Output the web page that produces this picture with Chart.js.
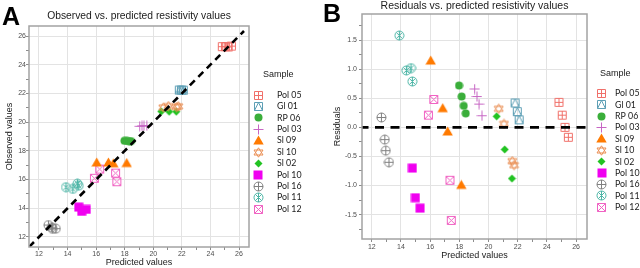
<!DOCTYPE html>
<html><head><meta charset="utf-8">
<script src="https://cdn.jsdelivr.net/npm/chart.js@4.4.1/dist/chart.umd.min.js"></script>
<style>
html,body{margin:0;padding:0;background:#fff;width:640px;height:268px;overflow:hidden}
#wrap{position:relative;width:640px;height:268px}
canvas{position:absolute;top:0}
#cA{left:0}#cB{left:320px}
</style></head>
<body><div id="wrap"><canvas id="cA" width="320" height="268"></canvas><canvas id="cB" width="320" height="268"></canvas></div>
<script>
// ---------------- data ----------------
const sampleNames = ['Pol 05','Gl 01','RP 06','Pol 03','Sl 09','Sl 10','Sl 02','Pol 10','Pol 16','Pol 11','Pol 12'];

const pol05_pred = [24.83, 25.05, 25.24, 25.47];
const pol05_obs  = [25.26, 25.26, 25.24, 25.30];
const pol05_res  = [0.43, 0.21, 0.00, -0.17];

const gl01_pred = [21.82, 21.97, 22.10];
const gl01_obs  = [22.24, 22.24, 22.23];
const gl01_res  = [0.42, 0.27, 0.13];

const rp06_pred = [17.98, 18.16, 18.30, 18.44];
const rp06_obs  = [18.70, 18.69, 18.67, 18.68];
const rp06_res  = [0.72, 0.53, 0.37, 0.24];

const pol03_pred = [19.05, 19.21, 19.35, 19.55];
const pol03_obs  = [19.71, 19.74, 19.75, 19.75];
const pol03_res  = [0.66, 0.53, 0.40, 0.20];

const sl09_pred = [16.04, 16.86, 17.20, 18.14];
const sl09_obs  = [17.19, 17.19, 17.13, 17.15];
const sl09_res  = [1.15, 0.33, -0.07, -0.99];

const sl10_pred = [20.70, 21.06, 21.63, 21.75];
const sl10_obs  = [21.02, 21.12, 21.05, 21.10];
const sl10_res  = [0.32, 0.06, -0.58, -0.65];

const sl02_pred = [20.56, 21.11, 21.61];
const sl02_obs  = [20.75, 20.73, 20.73];
const sl02_res  = [0.19, -0.38, -0.88];

const pol10_pred = [14.78, 14.99, 15.31];
const pol10_obs  = [14.08, 13.78, 13.92];
const pol10_res  = [-0.70, -1.21, -1.39];

const pol16_pred = [12.66, 12.89, 12.96, 13.18];
const pol16_obs  = [12.83, 12.68, 12.56, 12.58];
const pol16_res  = [0.17, -0.21, -0.40, -0.60];

const pol11_pred = [13.89, 14.37, 14.69, 14.78];
const pol11_obs  = [15.47, 15.35, 15.71, 15.57];
const pol11_res  = [1.58, 0.98, 1.02, 0.79];

const pol12_pred = [15.88, 16.25, 17.36, 17.45];
const pol12_obs  = [16.09, 16.73, 16.45, 15.85];
const pol12_res  = [0.21, 0.48, -0.91, -1.60];

const xTickLabels  = [12, 14, 16, 18, 20, 22, 24, 26];
const yTickLabelsA = [12, 14, 16, 18, 20, 22, 24, 26];
const yTickLabelsB = [-1.5, -1.0, -0.5, 0.0, 0.5, 1.0, 1.5];

const refLineA = [11.3, 26.35];   // y = x identity line ends
const refLineB = [11.33, 26.75];  // residual = 0 line ends

// ---------------- styles ----------------
const styles = [
  {color:'#f0706a', shape:'squarePlus',    size:11},
  {color:'#5d9fb5', shape:'squareTriangle',size:11},
  {color:'#3aae3a', shape:'circle',        size:9},
  {color:'#c766c4', shape:'plus',          size:11},
  {color:'#ff7a00', shape:'triangle',      size:11},
  {color:'#ea8f55', shape:'star6',         size:11},
  {color:'#22c322', shape:'diamond',       size:9},
  {color:'#f000f0', shape:'square',        size:10},
  {color:'#808080', shape:'circlePlus',    size:11},
  {color:'#4cb5a6', shape:'circleCross',   size:11},
  {color:'#f063c3', shape:'squareCross',   size:11}
];

function makeIcon(shape, color, s) {
  const c = document.createElement('canvas'); c.width = s; c.height = s;
  const g = c.getContext('2d');
  g.strokeStyle = color; g.fillStyle = color; g.lineWidth = 1;
  const m = s/2, a = 1.5, b = s - 1.5;
  g.beginPath();
  switch (shape) {
    case 'squarePlus':
      g.rect(a,a,b-a,b-a); g.moveTo(m,a); g.lineTo(m,b); g.moveTo(a,m); g.lineTo(b,m); g.stroke(); break;
    case 'squareTriangle':
      g.rect(a,a,b-a,b-a); g.moveTo(a,b); g.lineTo(m,a); g.lineTo(b,b); g.stroke(); break;
    case 'circle':
      g.arc(m,m,s/2-0.5,0,Math.PI*2); g.fill(); break;
    case 'plus':
      g.moveTo(m,0.5); g.lineTo(m,s-0.5); g.moveTo(0.5,m); g.lineTo(s-0.5,m); g.stroke(); break;
    case 'triangle':
      g.moveTo(m,0.5); g.lineTo(s-0.3,s-1.5); g.lineTo(0.3,s-1.5); g.closePath(); g.fill(); break;
    case 'star6':
      g.moveTo(m,0.8); g.lineTo(s-1,s-3); g.lineTo(1,s-3); g.closePath();
      g.moveTo(m,s-0.8); g.lineTo(s-1,3); g.lineTo(1,3); g.closePath(); g.stroke(); break;
    case 'diamond':
      g.moveTo(m,0.5); g.lineTo(s-0.5,m); g.lineTo(m,s-0.5); g.lineTo(0.5,m); g.closePath(); g.fill(); break;
    case 'square':
      g.fillRect(0.5,0.5,s-1,s-1); break;
    case 'circlePlus':
      g.arc(m,m,s/2-1,0,Math.PI*2); g.moveTo(m,1); g.lineTo(m,s-1); g.moveTo(1,m); g.lineTo(s-1,m); g.stroke(); break;
    case 'circleCross': {
      const r = s/2-1, d = r*0.707;
      g.arc(m,m,r,0,Math.PI*2); g.moveTo(m-d,m-d); g.lineTo(m+d,m+d); g.moveTo(m+d,m-d); g.lineTo(m-d,m+d);
      g.moveTo(m,1); g.lineTo(m,s-1); g.stroke(); break; }
    case 'squareCross':
      g.rect(a,a,b-a,b-a); g.moveTo(a,a); g.lineTo(b,b); g.moveTo(b,a); g.lineTo(a,b); g.stroke(); break;
  }
  return c;
}

const seriesTable = [
  [pol05_pred, pol05_obs, pol05_res],
  [gl01_pred, gl01_obs, gl01_res],
  [rp06_pred, rp06_obs, rp06_res],
  [pol03_pred, pol03_obs, pol03_res],
  [sl09_pred, sl09_obs, sl09_res],
  [sl10_pred, sl10_obs, sl10_res],
  [sl02_pred, sl02_obs, sl02_res],
  [pol10_pred, pol10_obs, pol10_res],
  [pol16_pred, pol16_obs, pol16_res],
  [pol11_pred, pol11_obs, pol11_res],
  [pol12_pred, pol12_obs, pol12_res]
];

function buildDatasets(which) {
  return sampleNames.map((name, i) => {
    const [pred, obs, res] = seriesTable[i];
    const ys = which === 'A' ? obs : res;
    const st = styles[i];
    return {
      label: name,
      data: pred.map((p, k) => ({x: p, y: ys[k]})),
      pointStyle: makeIcon(st.shape, st.color, st.size),
      pointRadius: 5,
      order: 1
    };
  });
}

const near = (v, arr) => arr.some(t => Math.abs(v - t) < 1e-6);

const decor = {
  id: 'decor',
  afterDraw(chart, args, o) {
    const {ctx, chartArea: ca} = chart;
    ctx.save();
    ctx.strokeStyle = '#a3a3a3'; ctx.lineWidth = 1.5;
    ctx.strokeRect(ca.left, ca.top, ca.right - ca.left, ca.bottom - ca.top);
    ctx.fillStyle = '#1a1a1a';
    ctx.font = o.titleFont; ctx.textAlign = 'center'; ctx.textBaseline = 'middle';
    ctx.fillText(o.title, (ca.left + ca.right) / 2, o.titleY);
    ctx.fillStyle = '#000';
    ctx.font = 'bold 25px "Liberation Sans", Arial, sans-serif';
    ctx.textAlign = 'left'; ctx.textBaseline = 'alphabetic';
    ctx.fillText(o.letter, o.letterX, o.letterY);
    ctx.fillStyle = '#1a1a1a';
    ctx.textBaseline = 'middle';
    ctx.font = '9px "Liberation Sans", Arial, sans-serif';
    ctx.fillText('Sample', o.legTitleX, o.legTitleY);
    ctx.font = '8.8px Lato, "Open Sans", sans-serif';
    chart.data.datasets.filter(d => !d.isRef).forEach((d, i) => {
      const y = o.legY0 + i * o.legStep;
      const ic = d.pointStyle;
      ctx.drawImage(ic, Math.round(o.symX - ic.width / 2), Math.round(y - ic.height / 2));
      ctx.fillText(d.label, o.textX, y);
    });
    ctx.restore();
  }
};

const tickFont = {family: '"Liberation Sans", Arial, sans-serif', size: 7};
const titleFont = {family: '"Liberation Sans", Arial, sans-serif', size: 9};

function makeChart(id, cfg) {
  return new Chart(document.getElementById(id), {
    type: 'scatter',
    data: {datasets: cfg.datasets},
    options: {
      responsive: false, animation: false, devicePixelRatio: 1,
      layout: {padding: cfg.padding, autoPadding: false},
      plugins: {legend: {display: false}, tooltip: {enabled: false}, decor: cfg.decor},
      scales: {
        x: {
          type: 'linear', min: cfg.xmin, max: cfg.xmax,
          afterFit: s => { s.height = cfg.xHeight; },
          border: {display: false},
          grid: {
            color: c => (c.tick && near(c.tick.value, xTickLabels)) ? '#e3e3e3' : 'rgba(0,0,0,0)',
            tickColor: '#8c8c8c', tickLength: 3, drawTicks: true, lineWidth: 1
          },
          ticks: {
            stepSize: 1, includeBounds: false, autoSkip: false, maxRotation: 0, padding: cfg.xTickPad,
            color: '#4d4d4d', font: tickFont,
            callback: v => near(v, xTickLabels) ? String(Math.round(v)) : ''
          },
          title: {display: true, text: 'Predicted values', color: '#1a1a1a', font: titleFont, padding: {top: 0, bottom: 0}}
        },
        y: {
          type: 'linear', min: cfg.ymin, max: cfg.ymax,
          afterFit: s => { s.width = cfg.yWidth; },
          border: {display: false},
          grid: {
            color: c => (c.tick && near(c.tick.value, cfg.yLabels)) ? '#e3e3e3' : 'rgba(0,0,0,0)',
            tickColor: '#8c8c8c', tickLength: 3, drawTicks: true, lineWidth: 1
          },
          ticks: {
            stepSize: cfg.yStep, includeBounds: false, autoSkip: false, padding: cfg.yTickPad,
            color: '#4d4d4d', font: tickFont,
            callback: v => near(v, cfg.yLabels) ? cfg.yFmt(v) : ''
          },
          title: {display: true, text: cfg.yTitle, color: '#1a1a1a', font: titleFont, padding: {top: cfg.yTitlePad, bottom: 0}}
        }
      }
    },
    plugins: [decor]
  });
}

const dsA = buildDatasets('A');
dsA.push({
  type: 'line', isRef: true, label: 'ref',
  data: [{x: refLineA[0], y: refLineA[0]}, {x: refLineA[1], y: refLineA[1]}],
  borderColor: '#000', borderWidth: 2.6, borderDash: [7, 5], pointRadius: 0, fill: false, order: -1
});
makeChart('cA', {
  datasets: dsA, padding: {top: 26, right: 71, bottom: 0, left: 0},
  xmin: 11.3, xmax: 26.7, ymin: 11.3, ymax: 26.7, yStep: 1, yLabels: yTickLabelsA,
  yFmt: v => String(Math.round(v)), xHeight: 21, yWidth: 29, xTickPad: 0, yTickPad: 0,
  yTitle: 'Observed values', yTitlePad: 4,
  decor: {title: 'Observed vs. predicted resistivity values', titleFont: '10.3px "Liberation Sans", Arial, sans-serif', titleY: 16.5,
          letter: 'A', letterX: 2, letterY: 25,
          legTitleX: 263, legTitleY: 75, legY0: 95, legStep: 11.4, symX: 258, textX: 277}
});

const dsB = buildDatasets('B');
dsB.push({
  type: 'line', isRef: true, label: 'ref',
  data: [{x: refLineB[0], y: 0}, {x: refLineB[1], y: 0}],
  borderColor: '#000', borderWidth: 2.6, borderDash: [9, 6.5], borderDashOffset: -13, pointRadius: 0, fill: false, order: -1
});
makeChart('cB', {
  datasets: dsB, padding: {top: 14, right: 53, bottom: 7, left: 0},
  xmin: 11.33, xmax: 26.75, ymin: -1.92, ymax: 1.95, yStep: 0.25, yLabels: yTickLabelsB,
  yFmt: v => v.toFixed(1), xHeight: 22, yWidth: 42, xTickPad: 1, yTickPad: 2,
  yTitle: 'Residuals', yTitlePad: 12.6,
  decor: {title: 'Residuals vs. predicted resistivity values', titleFont: '10.5px "Liberation Sans", Arial, sans-serif', titleY: 6.5,
          letter: 'B', letterX: 3, letterY: 22,
          legTitleX: 280, legTitleY: 74, legY0: 93.3, legStep: 11.4, symX: 281.7, textX: 295}
});
</script></body></html>
